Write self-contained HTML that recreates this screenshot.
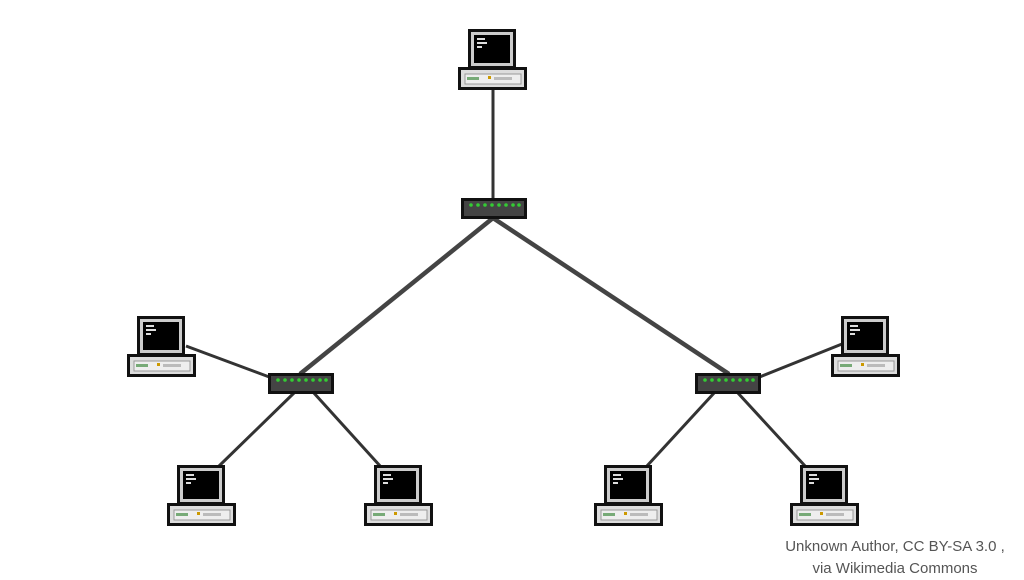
<!DOCTYPE html>
<html><head><meta charset="utf-8"><style>
body{margin:0;background:#fff;width:1024px;height:576px;overflow:hidden;position:relative;font-family:"Liberation Sans",sans-serif}
.cap{position:absolute;left:760px;top:536px;width:270px;text-align:center;font-size:15px;color:#555;line-height:22px}
</style></head><body>
<svg width="1024" height="576" style="position:absolute;left:0;top:0">
<defs>
<g id="pc">
<rect x="11.5" y="1.5" width="45" height="37" fill="#ccc" stroke="#111" stroke-width="3"/>
<rect x="16" y="6" width="36" height="28" fill="#000"/>
<rect x="19" y="9" width="8" height="2" fill="#ddd"/><rect x="19" y="13" width="10" height="2" fill="#ddd"/><rect x="19" y="17" width="5" height="2" fill="#ddd"/>
<rect x="1.5" y="39.5" width="66" height="20" fill="#ddd" stroke="#111" stroke-width="3"/>
<rect x="7" y="45" width="56" height="10" fill="#eee" stroke="#999"/>
<rect x="9" y="48" width="12" height="3" fill="#7a7"/>
<rect x="30" y="47" width="3" height="3" fill="#c90"/><rect x="36" y="48" width="18" height="3" fill="#bbb"/>
</g>
<g id="sw">
<rect x="1.5" y="1.5" width="63" height="18" fill="#444" stroke="#111" stroke-width="3"/>
<g fill="#3c3">
<circle cx="10" cy="7" r="1.8"/><circle cx="17" cy="7" r="1.8"/><circle cx="24" cy="7" r="1.8"/><circle cx="31" cy="7" r="1.8"/><circle cx="38" cy="7" r="1.8"/><circle cx="45" cy="7" r="1.8"/><circle cx="52" cy="7" r="1.8"/><circle cx="58" cy="7" r="1.8"/>
</g></g>
</defs>
<g stroke="#333" stroke-width="3" fill="none">
<line x1="493" y1="90" x2="493" y2="199"/>
<line x1="186" y1="346" x2="272" y2="378"/>
<line x1="295" y1="392" x2="218" y2="467"/>
<line x1="313" y1="392" x2="381" y2="467"/>
<line x1="715" y1="392" x2="646" y2="467"/>
<line x1="737" y1="392" x2="806" y2="467"/>
<line x1="757" y1="378" x2="842" y2="344"/>
</g>
<g stroke="#444" stroke-width="4.5">
<line x1="493" y1="218" x2="300" y2="374"/>
<line x1="493" y1="218" x2="729" y2="374"/>
</g>
<use href="#pc" x="458" y="29"/>
<use href="#pc" x="127" y="316"/>
<use href="#pc" x="831" y="316"/>
<use href="#pc" x="167" y="465"/>
<use href="#pc" x="364" y="465"/>
<use href="#pc" x="594" y="465"/>
<use href="#pc" x="790" y="465"/>
<use href="#sw" x="461" y="198"/>
<use href="#sw" x="268" y="373"/>
<use href="#sw" x="695" y="373"/>
</svg>
<div class="cap">Unknown Author, CC BY-SA 3.0 ,<br>via Wikimedia Commons</div>
</body></html>
